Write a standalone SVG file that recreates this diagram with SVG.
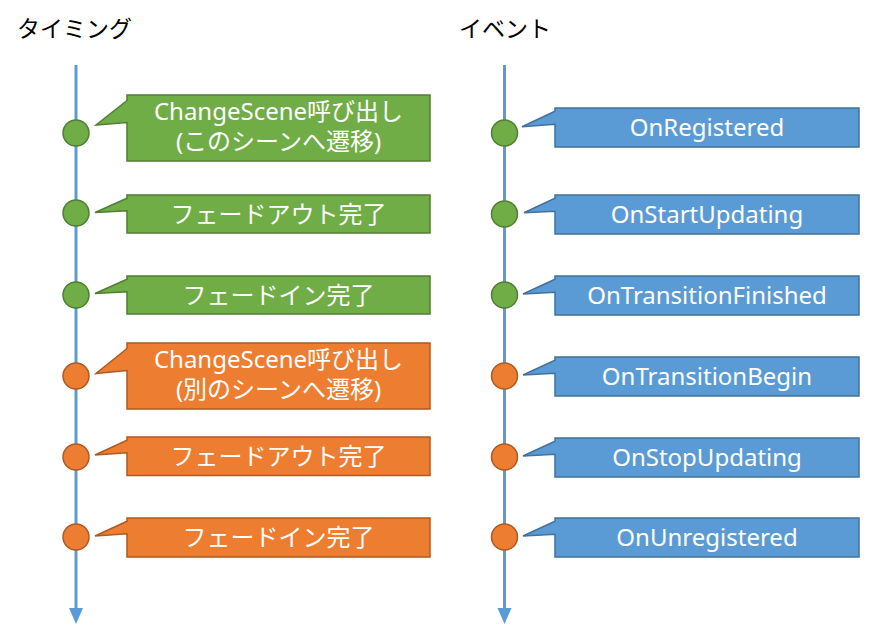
<svg xmlns="http://www.w3.org/2000/svg" width="891" height="641" viewBox="0 0 891 641">
<defs>
<style>
.title{font-family:"Noto Sans CJK JP","Noto Sans",sans-serif;font-size:23px;fill:#000}
.lbl{font-family:"Noto Sans","Noto Sans CJK JP",sans-serif;font-size:24px;fill:#fff;text-anchor:middle}
.tl{stroke:#5B9BD5;stroke-width:3;fill:none}
.g{fill:#70AD47;stroke:#507E32;stroke-width:1.5}
.o{fill:#ED7D31;stroke:#AE5A21;stroke-width:1.5}
.b{fill:#5B9BD5;stroke:#41719C;stroke-width:1.5}
</style>
</defs>
<rect width="891" height="641" fill="#fff"/>
<text class="title" x="17" y="37">タイミング</text>
<text class="title" x="459" y="37">イベント</text>
<g id="connectors">
<line class="tl" x1="76" y1="65" x2="76" y2="609"/>
<path d="M69,608 L83,608 L76,624 Z" fill="#5B9BD5"/>
<line class="tl" x1="504.5" y1="65" x2="504.5" y2="609"/>
<path d="M497.5,608 L511.5,608 L504.5,624 Z" fill="#5B9BD5"/>
</g>
<g id="t1">
<circle class="g" cx="76" cy="133" r="13"/>
<path class="g" d="M127,95 H430 V161 H127 V122.5 L96,125 L127,100.5 Z"/>
<text class="lbl" x="278.5" y="120">ChangeScene呼び出し</text>
<text class="lbl" x="278.5" y="150">(このシーンへ遷移)</text>
</g>
<g id="t2">
<circle class="g" cx="76" cy="213" r="13"/>
<path class="g" d="M127,195 H430 V233 H127 V210.8 L95,212.5 L127,198.2 Z"/>
<text class="lbl" x="278.5" y="222.5">フェードアウト完了</text>
</g>
<g id="t3">
<circle class="g" cx="76" cy="295" r="13"/>
<path class="g" d="M127,276 H430 V314 H127 V291.8 L95,293.5 L127,279.2 Z"/>
<text class="lbl" x="278.5" y="303.5">フェードイン完了</text>
</g>
<g id="t4">
<circle class="o" cx="76" cy="376" r="13"/>
<path class="o" d="M127,343 H430 V409 H127 V370.5 L96,373.5 L127,348.5 Z"/>
<text class="lbl" x="278.5" y="368">ChangeScene呼び出し</text>
<text class="lbl" x="278.5" y="398">(別のシーンへ遷移)</text>
</g>
<g id="t5">
<circle class="o" cx="76" cy="457" r="13"/>
<path class="o" d="M127,437 H430 V475.5 H127 V452.8 L95,455 L127,440.2 Z"/>
<text class="lbl" x="278.5" y="465">フェードアウト完了</text>
</g>
<g id="t6">
<circle class="o" cx="76" cy="537" r="13"/>
<path class="o" d="M127,518 H430 V557 H127 V533.8 L95,536 L127,521.2 Z"/>
<text class="lbl" x="278.5" y="546">フェードイン完了</text>
</g>
<g id="e1">
<circle class="g" cx="504.5" cy="133" r="13"/>
<path class="b" d="M555,108 H859 V147 H555 V124.3 L522,126.7 L555,111.3 Z"/>
<text class="lbl" x="707" y="136">OnRegistered</text>
</g>
<g id="e2">
<circle class="g" cx="504.5" cy="214" r="13"/>
<path class="b" d="M555,195 H859 V234 H555 V211.3 L524,212.7 L555,198.3 Z"/>
<text class="lbl" x="707" y="223">OnStartUpdating</text>
</g>
<g id="e3">
<circle class="g" cx="504.5" cy="295" r="13"/>
<path class="b" d="M555,276 H859 V315 H555 V292.3 L523,294 L555,279.3 Z"/>
<text class="lbl" x="707" y="304">OnTransitionFinished</text>
</g>
<g id="e4">
<circle class="o" cx="504.5" cy="376" r="13"/>
<path class="b" d="M555,357 H859 V396 H555 V373.3 L523,375 L555,360.3 Z"/>
<text class="lbl" x="707" y="385">OnTransitionBegin</text>
</g>
<g id="e5">
<circle class="o" cx="504.5" cy="457" r="13"/>
<path class="b" d="M555,438 H859 V477 H555 V454.3 L523,456 L555,441.3 Z"/>
<text class="lbl" x="707" y="466">OnStopUpdating</text>
</g>
<g id="e6">
<circle class="o" cx="504.5" cy="537" r="13"/>
<path class="b" d="M555,518 H859 V557 H555 V534.3 L523,536 L555,521.3 Z"/>
<text class="lbl" x="707" y="546">OnUnregistered</text>
</g>
</svg>
